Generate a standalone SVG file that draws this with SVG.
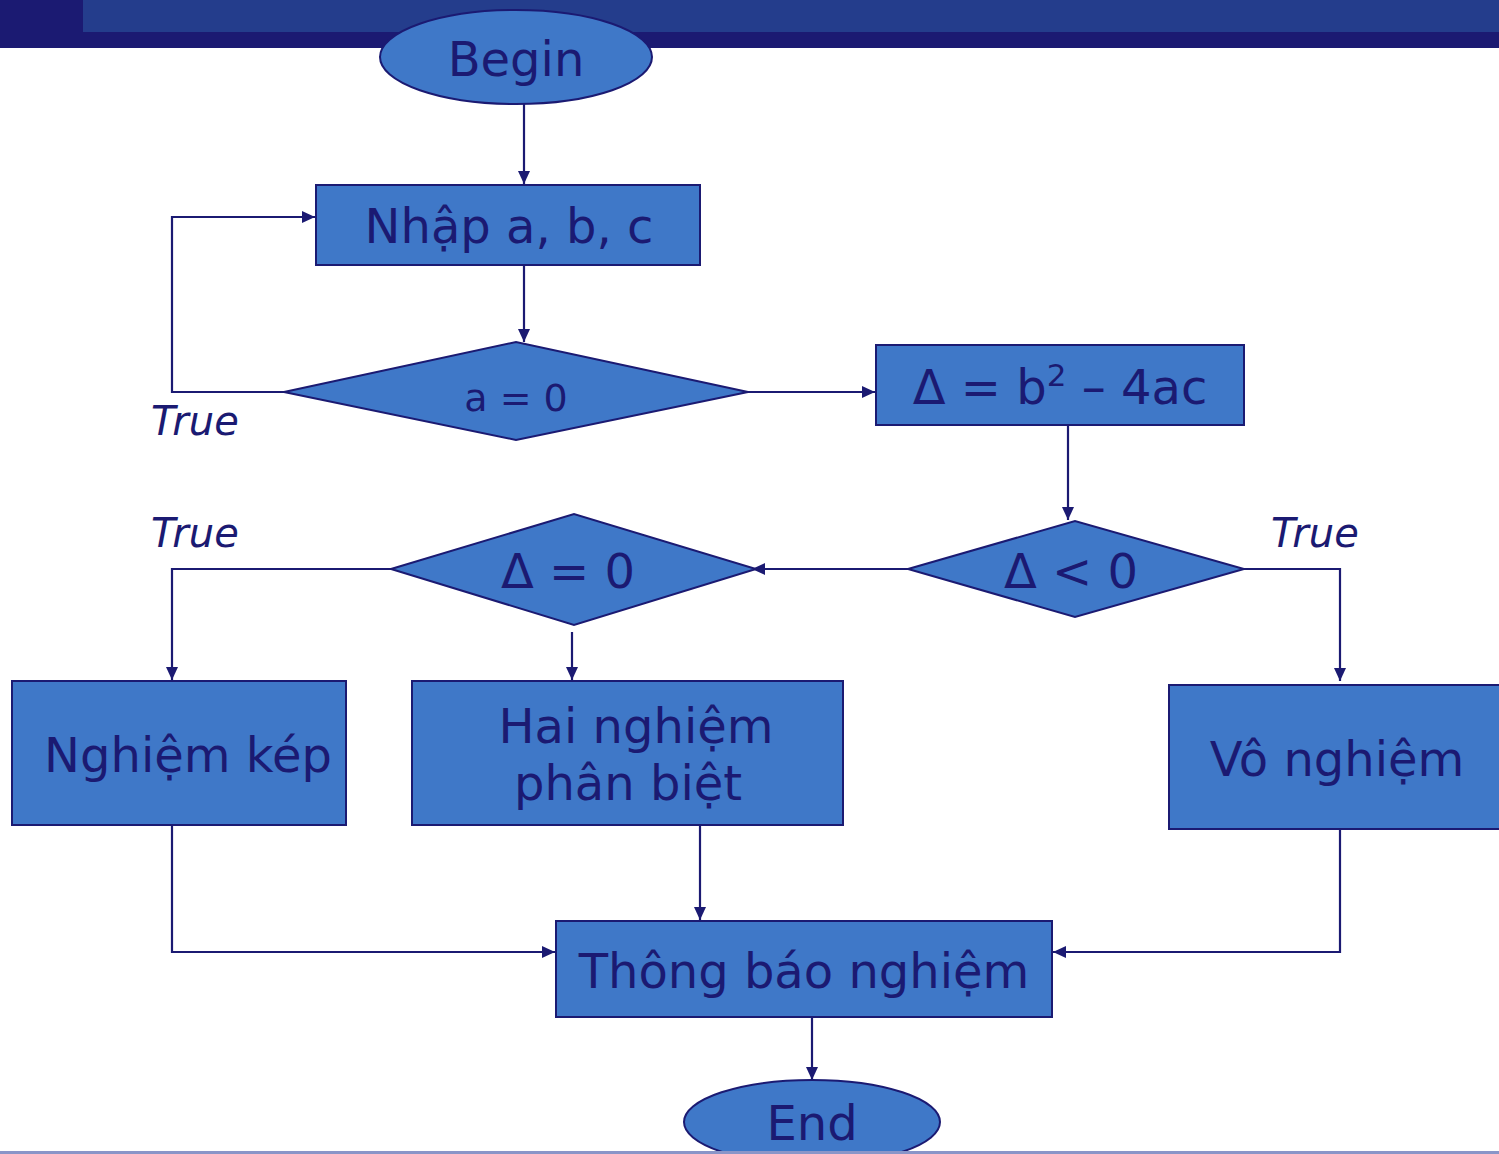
<svg xmlns="http://www.w3.org/2000/svg" width="1499" height="1154" viewBox="0 0 1499 1154">
<style>
.n{fill:#3f78c8;stroke:#1b1a72;stroke-width:2}
.t{font-family:"DejaVu Sans",Verdana,sans-serif;fill:#1b1a72;text-anchor:middle;font-size:48px}
.s{font-size:38px}
.c{fill:none;stroke:#1b1a72;stroke-width:2.2}
.lbl{font-family:"DejaVu Sans",Verdana,sans-serif;font-style:italic;fill:#1b1a72;font-size:40px}
</style>
<defs>
<marker id="ah" markerUnits="userSpaceOnUse" markerWidth="14" markerHeight="14" viewBox="0 0 14 14" refX="13" refY="7" orient="auto">
<path d="M0,1 L13,7 L0,13 Z" fill="#1b1a72"/>
</marker>
</defs>
<rect x="0" y="0" width="1499" height="48" fill="#1b1a72"/>
<rect x="83" y="0" width="1416" height="32" fill="#243d8c"/>

<g id="connectors">
<path class="c" d="M524,104 L524,184" marker-end="url(#ah)"/>
<path class="c" d="M524,265 L524,342" marker-end="url(#ah)"/>
<path class="c" d="M284,392 L172,392 L172,217 L315,217" marker-end="url(#ah)"/>
<path class="c" d="M748,392 L875,392" marker-end="url(#ah)"/>
<path class="c" d="M1068,425 L1068,520" marker-end="url(#ah)"/>
<path class="c" d="M908,569 L752,569" marker-end="url(#ah)"/>
<path class="c" d="M391,569 L172,569 L172,680" marker-end="url(#ah)"/>
<path class="c" d="M572,632 L572,680" marker-end="url(#ah)"/>
<path class="c" d="M1244,569 L1340,569 L1340,681" marker-end="url(#ah)"/>
<path class="c" d="M172,825 L172,952 L555,952" marker-end="url(#ah)"/>
<path class="c" d="M700,825 L700,920" marker-end="url(#ah)"/>
<path class="c" d="M1340,826 L1340,952 L1053,952" marker-end="url(#ah)"/>
<path class="c" d="M812,1017 L812,1080" marker-end="url(#ah)"/>
</g>

<g id="begin">
<ellipse class="n" cx="516" cy="57" rx="136" ry="47"/>
<text class="t" x="516" y="76">Begin</text>
</g>
<g id="input">
<rect class="n" x="316" y="185" width="384" height="80"/>
<text class="t" x="509" y="243">Nhập a, b, c</text>
</g>
<g id="cond-a">
<polygon class="n" points="284,392 516,342 748,392 516,440"/>
<text class="t s" x="516" y="411">a = 0</text>
</g>
<g id="delta">
<rect class="n" x="876" y="345" width="368" height="80"/>
<text class="t" x="1060" y="404">Δ = b<tspan font-size="31" dy="-18">2</tspan><tspan dy="18"> – 4ac</tspan></text>
</g>
<g id="cond-lt">
<polygon class="n" points="908,569 1075,521 1244,569 1075,617"/>
<text class="t" x="1071" y="588">Δ &lt; 0</text>
</g>
<g id="cond-eq">
<polygon class="n" points="391,569 574,514 756,569 574,625"/>
<text class="t" x="568" y="588">Δ = 0</text>
</g>
<g id="kep">
<rect class="n" x="12" y="681" width="334" height="144"/>
<text class="t" x="188" y="772">Nghiệm kép</text>
</g>
<g id="hai">
<rect class="n" x="412" y="681" width="431" height="144"/>
<text class="t" x="636" y="743">Hai nghiệm</text>
<text class="t" x="628" y="800">phân biệt</text>
</g>
<g id="vo">
<rect class="n" x="1169" y="685" width="340" height="144"/>
<text class="t" x="1337" y="776">Vô nghiệm</text>
</g>
<g id="thongbao">
<rect class="n" x="556" y="921" width="496" height="96"/>
<text class="t" x="804" y="988">Thông báo nghiệm</text>
</g>
<g id="end">
<ellipse class="n" cx="812" cy="1122" rx="128" ry="42"/>
<text class="t" x="812" y="1140">End</text>
</g>
<g id="labels">
<text class="lbl" x="151" y="435">True</text>
<text class="lbl" x="151" y="547">True</text>
<text class="lbl" x="1271" y="547">True</text>
</g>
<rect x="0" y="1151" width="1499" height="3" fill="#8a95c8"/>
</svg>
